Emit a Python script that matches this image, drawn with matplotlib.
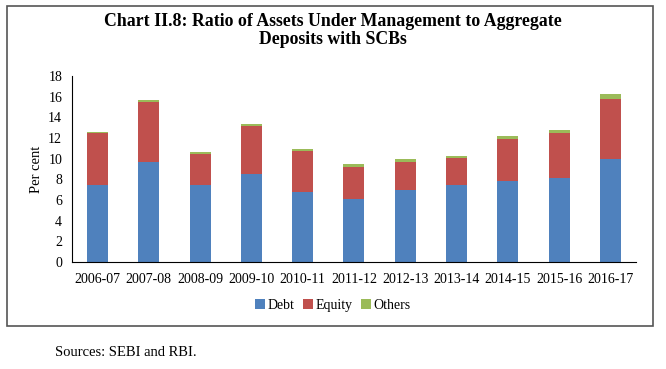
import matplotlib
matplotlib.use('Agg')
import matplotlib.pyplot as plt
from matplotlib.patches import Rectangle
import numpy as np

plt.rcParams['font.family'] = 'Liberation Serif'

years = ['2006-07', '2007-08', '2008-09', '2009-10', '2010-11', '2011-12',
         '2012-13', '2013-14', '2014-15', '2015-16', '2016-17']
debt = [7.45, 9.7, 7.45, 8.55, 6.8, 6.05, 7.0, 7.45, 7.8, 8.1, 9.95]
equity = [5.05, 5.8, 3.0, 4.65, 3.9, 3.15, 2.7, 2.6, 4.15, 4.4, 5.85]
others = [0.1, 0.15, 0.2, 0.15, 0.2, 0.3, 0.25, 0.2, 0.2, 0.25, 0.5]

fig = plt.figure(figsize=(6.66, 3.69), dpi=100)
ax = fig.add_axes([0.108, 0.29, 0.847, 0.504])

x = np.arange(len(years))
w = 0.41
d = np.array(debt)
e = np.array(equity)
ax.bar(x, debt, w, color='#4F81BD', label='Debt')
ax.bar(x, equity, w, bottom=d, color='#C0504D', label='Equity')
ax.bar(x, others, w, bottom=d + e, color='#9BBB59', label='Others')

ax.set_xlim(-0.5, len(years) - 0.5)
ax.set_ylim(0, 18)
ax.set_yticks(range(0, 19, 2))
ax.set_xticks(x)
ax.set_xticklabels(years)
ax.tick_params(axis='both', labelsize=10, length=0)
ax.tick_params(axis='x', pad=8)
ax.tick_params(axis='y', pad=7)
for s in ['top', 'right']:
    ax.spines[s].set_visible(False)
ax.set_ylabel('Per cent', fontsize=10.5, labelpad=4)

ax.legend(loc='center', bbox_to_anchor=(0.5, 0.173), bbox_transform=fig.transFigure,
          ncol=3, frameon=False, fontsize=10, handlelength=0.7, handleheight=0.7,
          handletextpad=0.2, columnspacing=0.6)

fig.text(0.5, 0.918, 'Chart II.8: Ratio of Assets Under Management to Aggregate\nDeposits with SCBs',
         ha='center', va='center', fontsize=12.8, fontweight='bold', linespacing=1.1)

# outer chart frame
fig.patches.append(Rectangle((7 / 666, 1 - 326 / 369), 646 / 666, 320 / 369,
                             transform=fig.transFigure, fill=False, edgecolor='#555555', lw=1.2))

fig.text(0.083, 0.045, 'Sources: SEBI and RBI.', fontsize=10.5, ha='left', va='center')

plt.savefig('out.png', dpi=100)
